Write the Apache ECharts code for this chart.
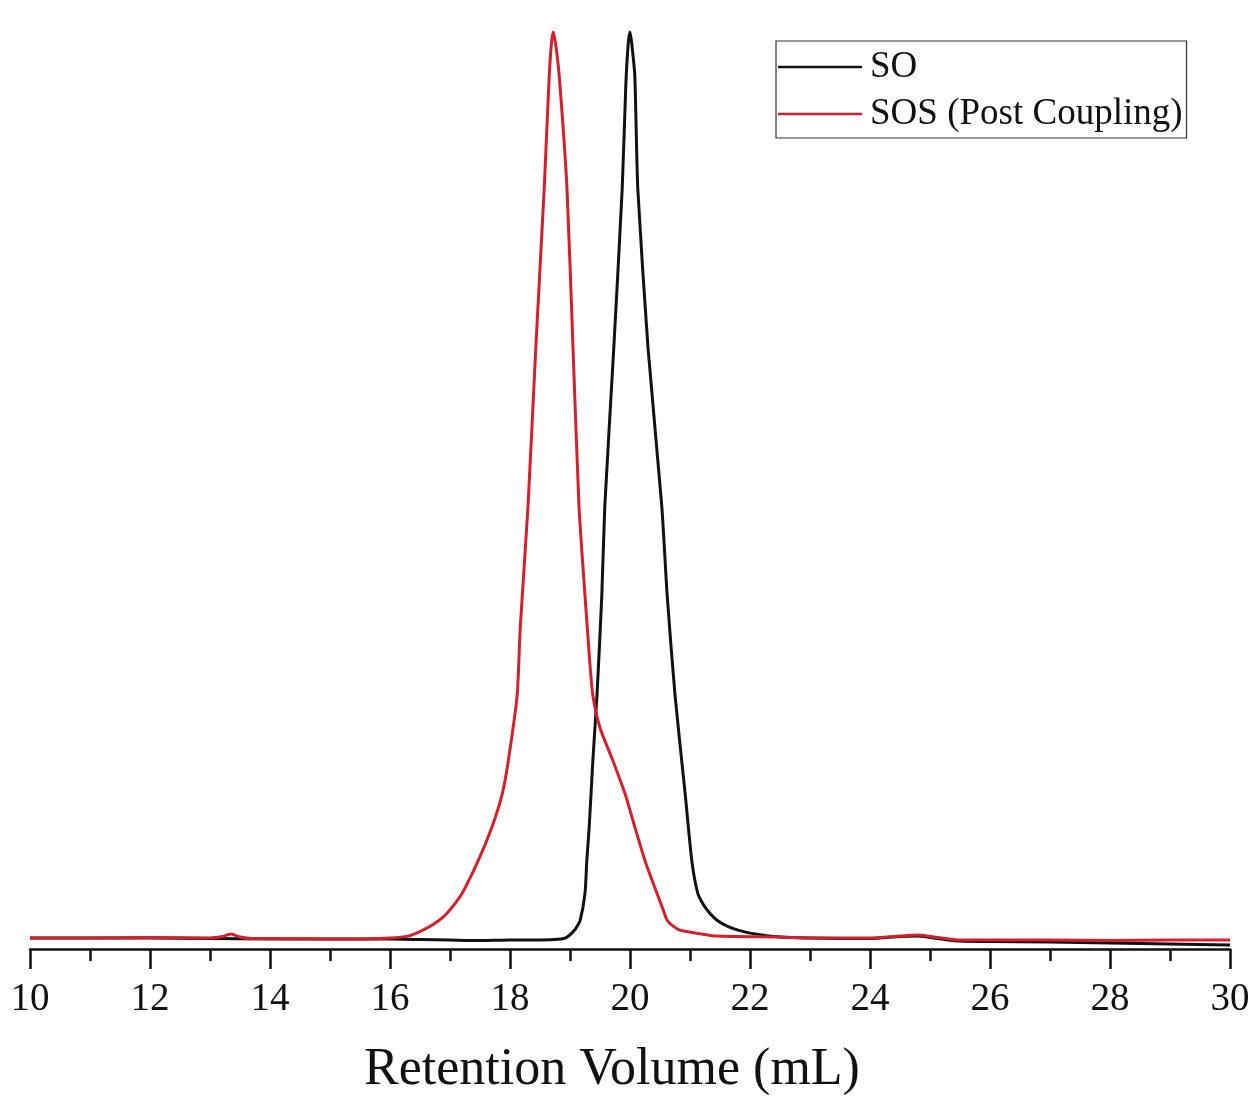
<!DOCTYPE html>
<html>
<head>
<meta charset="utf-8">
<title>GPC traces</title>
<script src="https://cdn.jsdelivr.net/npm/echarts@6/dist/echarts.min.js"></script>
<style>
    html, body { margin: 0; padding: 0; background: #fff; overflow: hidden; }
    #gpc_chart { width: 1254px; height: 1101px; }
</style>
</head>
<body>
<div id="gpc_chart"></div>
<script>

// Chart data
// -----------------------------

var xTicks = [10, 12, 14, 16, 18, 20, 22, 24, 26, 28, 30];

// SO trace (retention volume, mL / detector response)
var soX = [10, 11, 12, 13, 14, 15, 16, 16.5, 17, 17.5, 18, 18.5, 18.85, 18.95, 19.03, 19.1, 19.17, 19.25, 19.28, 19.32, 19.38, 19.45, 19.53, 19.58, 19.73, 19.87, 19.93, 19.97, 20.0, 20.03, 20.08, 20.13, 20.3, 20.53, 20.62, 20.75, 20.92, 21.03, 21.13, 21.23, 21.33, 21.45, 21.62, 21.8, 22.0, 22.5, 23, 24, 24.5, 24.8, 25.2, 25.5, 26, 27, 28, 29, 30];
var soY = [11, 11, 11, 10.5, 10, 10, 10, 9.5, 9, 8.5, 9, 9, 10, 12, 16, 21, 29, 56, 89, 123, 189, 256, 356, 446, 606, 766, 870, 912, 924, 912, 880, 766, 606, 446, 356, 256, 156, 89, 56, 44, 36, 29, 23, 19, 16, 12, 11, 10.5, 12.5, 13, 10, 8, 7.5, 7, 6, 5, 4];

// SOS trace after coupling
var sosX = [10, 11, 12, 13, 13.2, 13.35, 13.5, 13.7, 14, 15, 15.5, 16, 16.3, 16.55, 16.8, 16.95, 17.2, 17.47, 17.7, 17.87, 17.97, 18.12, 18.17, 18.3, 18.43, 18.57, 18.65, 18.69, 18.72, 18.76, 18.82, 18.95, 19.05, 19.15, 19.25, 19.33, 19.38, 19.5, 19.72, 19.92, 20.08, 20.25, 20.45, 20.55, 20.62, 20.72, 20.83, 21.1, 21.45, 22.5, 23, 24, 24.5, 24.8, 25.2, 25.5, 26, 27, 28, 29, 30];
var sosY = [11, 11, 11.5, 11, 12.5, 15, 12, 10.5, 10.5, 10, 10, 11, 13, 19, 28, 36, 56, 89, 123, 156, 189, 256, 323, 446, 606, 766, 875, 912, 924, 912, 880, 766, 606, 446, 356, 289, 256, 223, 189, 156, 123, 89, 56, 40, 29, 23, 19, 16, 13, 12, 11, 11, 13, 14, 11, 9, 9, 9, 8.5, 9, 9];

var seriesNames = ['SO', 'SOS (Post Coupling)'];
var seriesColors = ['#111111', '#d2202c'];


// Setup module
// -----------------------------

var GpcChart = function() {

    var zip = function(xs, ys) {
        return xs.map(function(x, i) { return [x, ys[i]]; });
    };

    var _gpcChart = function() {
        if (typeof echarts == 'undefined') {
            console.warn('Warning - echarts.min.js is not loaded.');
            return;
        }

        // Define element
        var gpc_element = document.getElementById('gpc_chart');
        var gpc = echarts.init(gpc_element, null, { renderer: 'canvas' });

        var serif = '"Liberation Serif", "Times New Roman", serif';

        gpc.setOption({
            animation: false,
            color: seriesColors,

            textStyle: {
                fontFamily: serif
            },

            // Setup grid
            grid: {
                left: 30,
                right: 24,
                top: 31,
                bottom: 145,
                containLabel: false
            },

            // Add legend
            legend: {
                orient: 'vertical',
                left: 776,
                top: 41,
                data: seriesNames,
                icon: 'rect',
                itemWidth: 84,
                itemHeight: 2.5,
                itemGap: 7,
                padding: [6, 4, 4, 2],
                borderColor: '#333',
                borderWidth: 1.2,
                textStyle: {
                    fontFamily: serif,
                    fontSize: 37,
                    lineHeight: 40,
                    color: '#111',
                    padding: [0, 0, 0, 3]
                }
            },

            // Horizontal axis
            xAxis: {
                type: 'value',
                min: 10,
                max: 30,
                interval: 2,
                name: 'Retention Volume (mL)',
                nameLocation: 'middle',
                nameGap: 95,
                nameTextStyle: {
                    fontFamily: serif,
                    fontSize: 52,
                    color: '#111',
                    padding: [0, 36, 0, 0]
                },
                axisLine: {
                    lineStyle: { color: '#111', width: 2.5 }
                },
                axisTick: {
                    inside: false,
                    length: 20,
                    lineStyle: { color: '#111', width: 2.5 }
                },
                minorTick: {
                    show: true,
                    splitNumber: 2,
                    length: 12,
                    lineStyle: { color: '#111', width: 2.5 }
                },
                axisLabel: {
                    margin: 31,
                    fontFamily: serif,
                    fontSize: 39,
                    color: '#111',
                    formatter: function(v) {
                        return xTicks.indexOf(v) >= 0 ? String(v) : '';
                    }
                },
                splitLine: { show: false }
            },

            // Vertical axis (hidden)
            yAxis: {
                type: 'value',
                min: 0,
                max: 925,
                show: false,
                splitLine: { show: false }
            },

            // Add series
            series: [
                {
                    name: seriesNames[0],
                    type: 'line',
                    data: zip(soX, soY),
                    smooth: 0.2,
                    showSymbol: false,
                    z: 2,
                    lineStyle: { width: 3, color: seriesColors[0], join: 'round' }
                },
                {
                    name: seriesNames[1],
                    type: 'line',
                    data: zip(sosX, sosY),
                    smooth: 0.2,
                    showSymbol: false,
                    z: 3,
                    lineStyle: { width: 3, color: seriesColors[1], join: 'round' }
                }
            ]
        });
    };

    return {
        init: function() {
            _gpcChart();
        }
    }
}();


// Initialize module
// ------------------------------

document.addEventListener('DOMContentLoaded', function() {
    GpcChart.init();
});
</script>
</body>
</html>
